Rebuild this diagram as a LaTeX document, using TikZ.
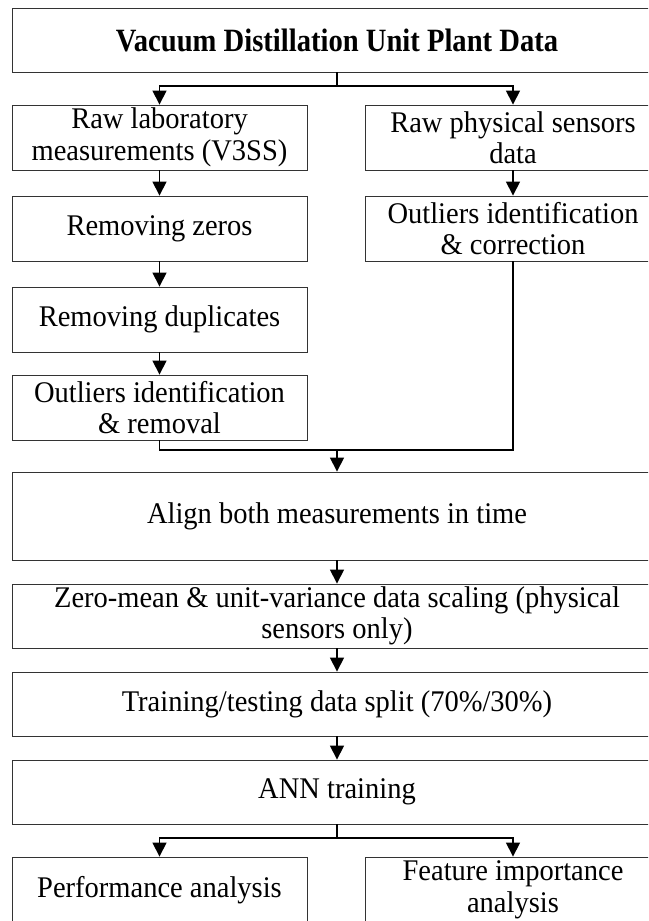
\documentclass[tikz,border=0pt]{standalone}
\usepackage{fontspec}
\setmainfont{Liberation Serif}[FakeStretch=0.95]
\newfontfamily\titlefont{Liberation Serif}[FakeStretch=0.88]
\usetikzlibrary{arrows.meta}
\begin{document}
\begin{tikzpicture}[x=1pt,y=-1pt,
  box/.style={draw=black!80, line width=0.9pt, inner sep=0pt, align=center,
    font=\fontsize{30}{31.5}\selectfont, text=black},
  half/.style={box, minimum width=295pt, minimum height=65pt},
  full/.style={box, minimum width=650pt, minimum height=64pt},
  conn/.style={line width=1.6pt, black},
  tip/.tip={Triangle[width=14pt,length=14pt]},
  arr/.style={conn, -tip}]
\useasboundingbox (0,0) rectangle (648,921);
\clip (0,0) rectangle (648,921);
\node[full, font=\titlefont\bfseries\fontsize{32.5}{34}\selectfont] (title) at (337,40) {Vacuum Distillation Unit Plant Data};
\node[half] (lab) at (159.5,137.5) {Raw laboratory\\measurements (V3SS)};
\node[half] (phys) at (513,137.5) {Raw physical sensors\\data};
\node[half] (zeros) at (159.5,228.5) {Removing zeros};
\node[half] (outcorr) at (513,228.5) {Outliers identification\\\& correction};
\node[half] (dup) at (159.5,319.5) {Removing duplicates};
\node[half] (outrem) at (159.5,407.5) {Outliers identification\\\& removal};
\node[full, minimum height=88pt] (align) at (337,516) {Align both measurements in time};
\node[full] (zero) at (337,616) {Zero-mean \& unit-variance data scaling (physical\\sensors only)};
\node[full] (train) at (337,704) {Training/testing data split (70\%/30\%)};
\node[full] (ann) at (337,792) {ANN training};
\node[half, minimum height=66pt] (perf) at (159.5,890) {Performance analysis};
\node[half, minimum height=66pt] (feat) at (513,890) {Feature importance\\analysis};
\coordinate (s1) at (337,86);
\coordinate (m) at (337,450);
\coordinate (s2) at (337,838);
\draw[conn] (title.south) -- (s1);
\draw[conn, tip-tip] (lab.north) |- (s1) -| (phys.north);
\draw[arr] (lab) -- (zeros);
\draw[arr] (zeros) -- (dup);
\draw[arr] (dup) -- (outrem);
\draw[arr] (phys) -- (outcorr);
\draw[conn] (outrem.south) |- (m) -| (outcorr.south);
\draw[arr] (m) -- (align.north);
\draw[arr] (align) -- (zero);
\draw[arr] (zero) -- (train);
\draw[arr] (train) -- (ann);
\draw[conn] (ann.south) -- (s2);
\draw[conn, tip-tip] (perf.north) |- (s2) -| (feat.north);
\end{tikzpicture}
\end{document}
